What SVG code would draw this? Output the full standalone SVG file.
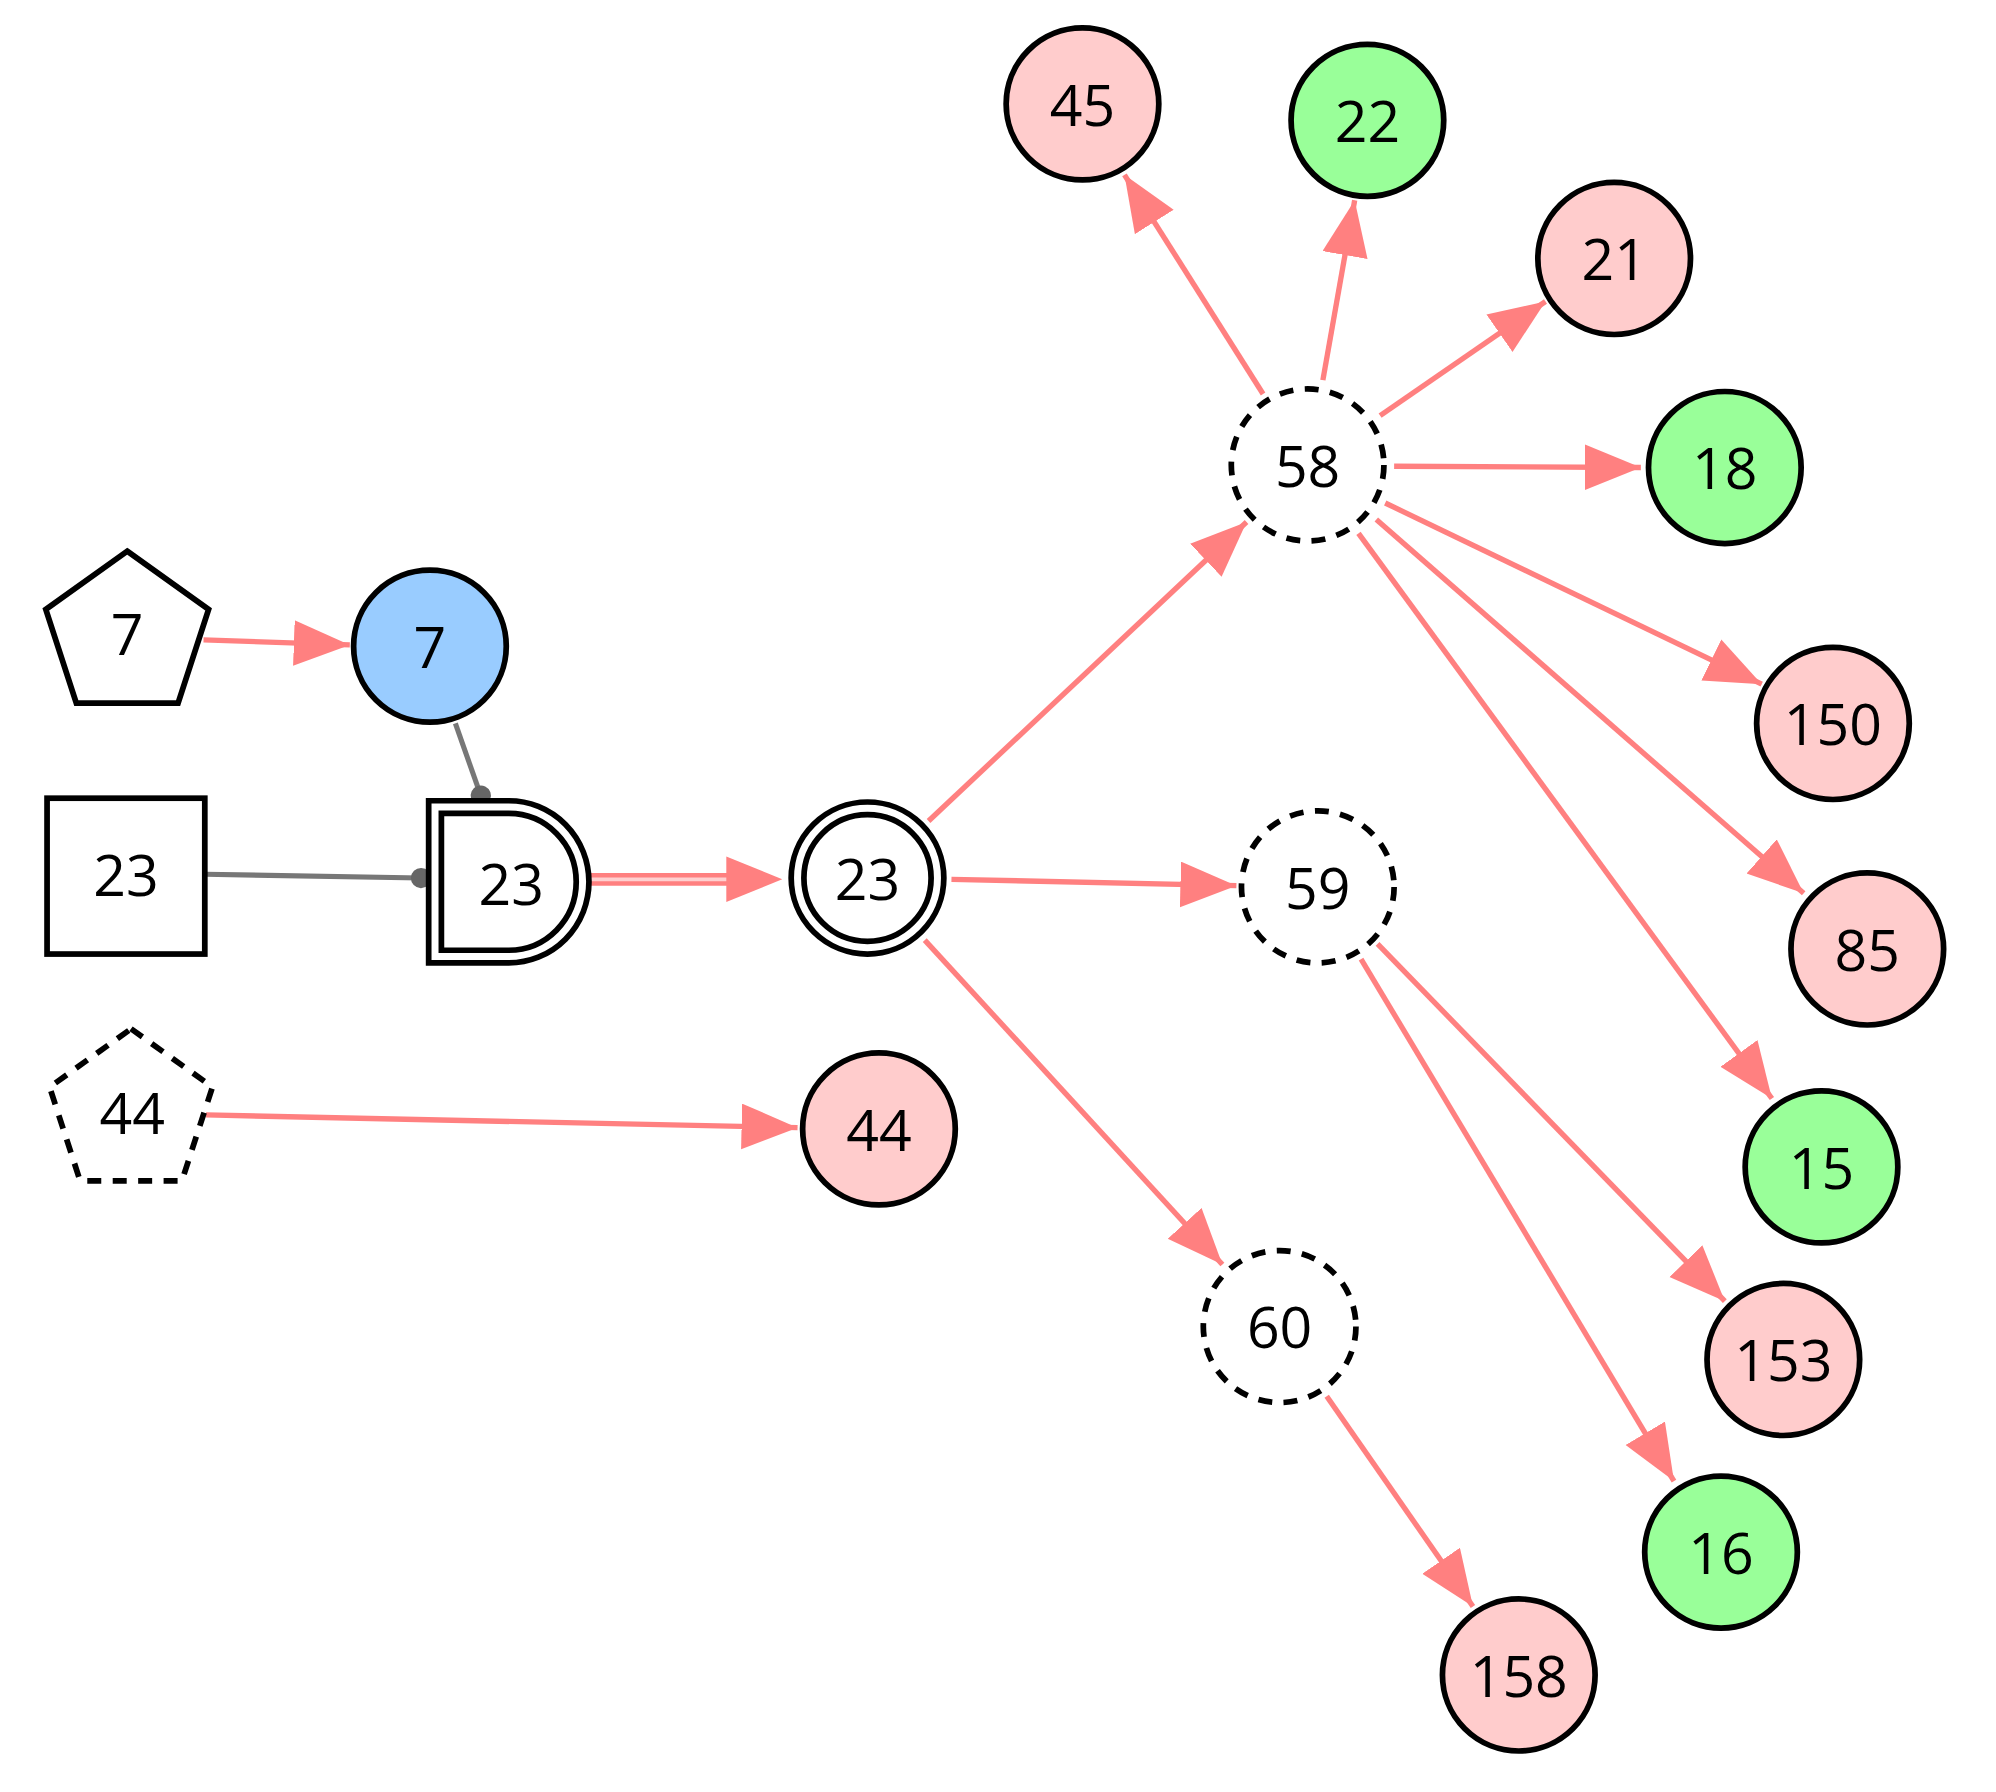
<svg xmlns="http://www.w3.org/2000/svg" width="1996" height="1792" viewBox="0 0 1996 1792">
<defs>
<style>
.n{stroke:#000;stroke-width:4.5}
.d{stroke-dasharray:11,9}
.t{font-family:"Open Sans","DejaVu Sans",sans-serif;font-size:45px;text-anchor:middle;dominant-baseline:central;fill:#000}
.e{stroke:#ff8080;stroke-width:4.2;fill:none;marker-end:url(#a)}
.g{stroke:#777;stroke-width:4;fill:none;marker-end:url(#dot)}
</style>
<marker id="a" markerUnits="userSpaceOnUse" markerWidth="46" markerHeight="38" refX="44" refY="18" orient="auto"><path d="M0,0 L44,18 L0,36 Z" fill="#ff8080"/></marker>
<marker id="dot" markerUnits="userSpaceOnUse" markerWidth="18" markerHeight="18" refX="9" refY="9" orient="auto"><circle cx="9" cy="9" r="8" fill="#666"/></marker>
</defs>
<rect width="1996" height="1792" fill="#fff"/>
<g transform="scale(1.272,1.267)">
<g id="edges">
<line class="g" x1="358" y1="571" x2="378" y2="628"/>
<line class="g" x1="161" y1="690" x2="331" y2="693"/>
<line x1="462" y1="694" x2="572" y2="694" stroke="#ff8080" stroke-width="10"/>
<line x1="462" y1="694" x2="574" y2="694" stroke="#ffd0d0" stroke-width="3"/>
<path d="M571,676 L615,694 L571,712 Z" fill="#ff8080"/>
<line class="e" x1="160" y1="505" x2="275" y2="509"/>
<line class="e" x1="162" y1="880" x2="627" y2="890"/>
<line class="e" x1="730" y1="648" x2="980" y2="412"/>
<line class="e" x1="748" y1="694" x2="972" y2="699"/>
<line class="e" x1="727" y1="742" x2="961" y2="998"/>
<line class="e" x1="993" y1="311" x2="884" y2="138"/>
<line class="e" x1="1040" y1="300" x2="1065" y2="158"/>
<line class="e" x1="1085" y1="328" x2="1215" y2="238"/>
<line class="e" x1="1096" y1="368" x2="1290" y2="369"/>
<line class="e" x1="1089" y1="397" x2="1385" y2="540"/>
<line class="e" x1="1082" y1="410" x2="1418" y2="705"/>
<line class="e" x1="1068" y1="421" x2="1393" y2="867"/>
<line class="e" x1="1083" y1="745" x2="1356" y2="1027"/>
<line class="e" x1="1070" y1="757" x2="1316" y2="1169"/>
<line class="e" x1="1043" y1="1102" x2="1158" y2="1268"/>
</g>
<g id="p7"><polygon class="n" fill="#fff" points="100,435 164,481 140,555 60,555 36,481"/><text class="t" x="100" y="500">7</text></g>
<g id="c7"><circle class="n" fill="#99ccff" cx="338" cy="510" r="60"/><text class="t" x="338" y="510">7</text></g>
<g id="s23"><rect class="n" fill="#fff" x="37" y="630" width="124" height="123"/><text class="t" x="99" y="690">23</text></g>
<g id="d23"><path class="n" fill="#fff" d="M337,632 H400 A63,64 0 0 1 400,760 H337 Z"/><path class="n" fill="none" d="M347,642 H400 A53,54 0 0 1 400,750 H347 Z"/><text class="t" x="402" y="697">23</text></g>
<g id="dc23"><circle class="n" fill="#fff" cx="682" cy="693" r="60"/><circle class="n" fill="none" cx="682" cy="693" r="50"/><text class="t" x="682" y="693">23</text></g>
<g id="p44"><polygon class="n d" fill="#fff" points="103,812 167,858 143,932 63,932 39,858"/><text class="t" x="104" y="878">44</text></g>
<g id="c44"><circle class="n" fill="#ffcccc" cx="691" cy="891" r="60"/><text class="t" x="691" y="891">44</text></g>
<g id="c58"><circle class="n d" fill="#fff" cx="1028" cy="367" r="60"/><text class="t" x="1028" y="367">58</text></g>
<g id="c59"><circle class="n d" fill="#fff" cx="1036" cy="700" r="60"/><text class="t" x="1036" y="700">59</text></g>
<g id="c60"><circle class="n d" fill="#fff" cx="1006" cy="1047" r="60"/><text class="t" x="1006" y="1047">60</text></g>
<g id="c45"><circle class="n" fill="#ffcccc" cx="851" cy="82" r="60"/><text class="t" x="851" y="82">45</text></g>
<g id="c22"><circle class="n" fill="#99ff99" cx="1075" cy="95" r="60"/><text class="t" x="1075" y="95">22</text></g>
<g id="c21"><circle class="n" fill="#ffcccc" cx="1269" cy="204" r="60"/><text class="t" x="1269" y="204">21</text></g>
<g id="c18"><circle class="n" fill="#99ff99" cx="1356" cy="369" r="60"/><text class="t" x="1356" y="369">18</text></g>
<g id="c150"><circle class="n" fill="#ffcccc" cx="1441" cy="571" r="60"/><text class="t" x="1441" y="571">150</text></g>
<g id="c85"><circle class="n" fill="#ffcccc" cx="1468" cy="749" r="60"/><text class="t" x="1468" y="749">85</text></g>
<g id="c15"><circle class="n" fill="#99ff99" cx="1432" cy="921" r="60"/><text class="t" x="1432" y="921">15</text></g>
<g id="c153"><circle class="n" fill="#ffcccc" cx="1402" cy="1073" r="60"/><text class="t" x="1402" y="1073">153</text></g>
<g id="c16"><circle class="n" fill="#99ff99" cx="1353" cy="1225" r="60"/><text class="t" x="1353" y="1225">16</text></g>
<g id="c158"><circle class="n" fill="#ffcccc" cx="1194" cy="1322" r="60"/><text class="t" x="1194" y="1322">158</text></g>
</g>
</svg>
